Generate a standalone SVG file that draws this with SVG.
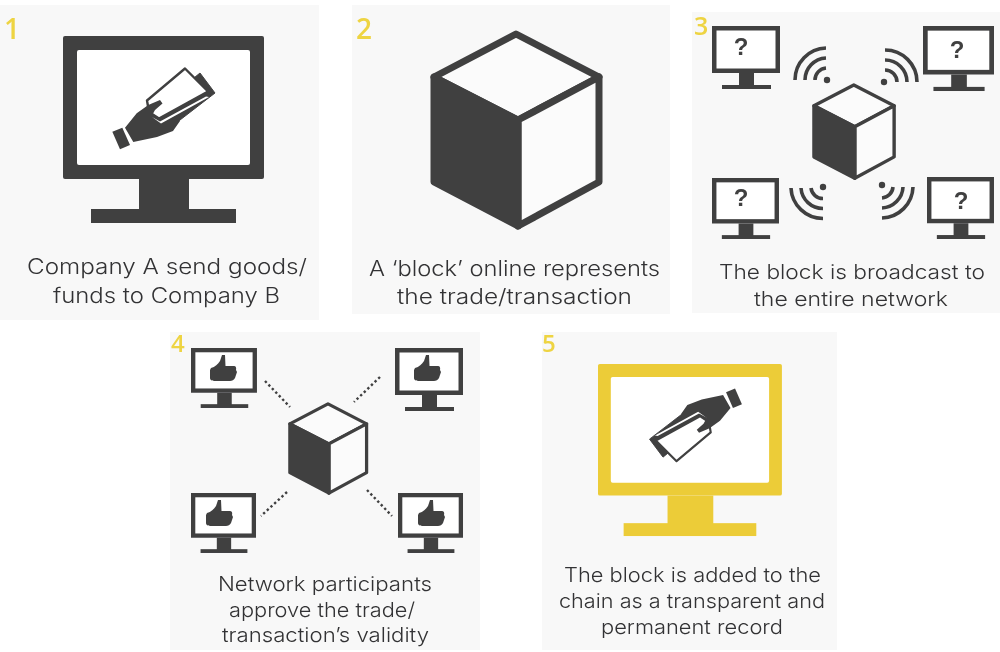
<svg xmlns="http://www.w3.org/2000/svg" width="1000" height="652" viewBox="0 0 1000 652">
<style>
.panel{fill:#f8f8f8}
.num{font-family:"Open Sans","Liberation Sans",sans-serif;font-weight:600;fill:#eed443}
.cap{font-family:Inter,"Liberation Sans",sans-serif;font-weight:300;fill:#333334;font-size:21px}
.cap3{font-size:20px}
.q{font-family:"Liberation Sans",sans-serif;font-weight:700;font-size:24px;fill:#404041;text-anchor:middle}
.wifi{fill:none;stroke:#404041;stroke-width:3.6}
.dot{fill:#404041}
.dots{fill:none;stroke:#404041;stroke-width:2.4;stroke-dasharray:2.4 2.6}
.dark{fill:#404041}
.yellow{fill:#eccc38}
.scr{fill:#fff}
</style>
<defs>
<filter id="soft" x="0" y="0" width="100%" height="100%"><feGaussianBlur stdDeviation="0.45"/></filter>
<g id="monitor">
<rect width="68" height="47" fill="#404041"/>
<rect x="4.5" y="4.5" width="59" height="38" fill="#fff"/>
<rect x="27" y="47" width="15" height="13" fill="#404041"/>
<rect x="10" y="59" width="49" height="4" fill="#404041"/>
</g>
<g id="bigmonitor">
<rect width="201" height="143" rx="2"/>
<rect x="14" y="14" width="173" height="115" rx="2" class="scr"/>
<rect x="76" y="143" width="50" height="31"/>
<rect x="28" y="173" width="145" height="14"/>
</g>
<g id="cube" stroke="#404041" stroke-width="7" stroke-linejoin="round">
<path d="M86 4L169 47L88 90L4 47Z" fill="#fbfbfb"/>
<path d="M88 90L169 47V152L88 196Z" fill="#fbfbfb"/>
<path d="M4 47L88 90V196L4 152Z" fill="#404041"/>
</g>
<g id="hand">
<path d="M200 73L215 93L180 120L160 130L150 114Z" fill="#404041" stroke="#404041" stroke-width="1" stroke-linejoin="round"/>
<path d="M147 100.500L185 68.500L208 91.500L159 118.500L149 112Z" fill="#fff" stroke="#404041" stroke-width="2.400" stroke-linejoin="round"/>
<path d="M152 117L160 121.500L206 96.500L209 97L161 123.500Z" fill="#fff"/>
<path d="M125 127.700L136.700 113.300L148.300 105L160 100L162.500 103.500L155 110L151.500 116.500L160 126L177 116L180 121L173 131L157 137L133.300 142Z" fill="#404041"/>
<path d="M112.300 131.700L122.300 127.700L130 145L120 149.300Z" fill="#404041"/>
</g>
<path id="thumb" d="M-12 -3C-8 -4 -5 -7 -3 -10L-1 -16H2L2.500 -5H11C13 -5 13.500 -3 13 -1L14 1L13 4L12 7C11 9 9 10 7 10H-7C-9 10 -13 10 -13 7V-1Z" fill="#404041"/>
</defs>
<g filter="url(#soft)">
<g id="step-1">
<rect class="panel" x="0" y="5" width="319" height="315"/>
<text class="num" x="4" y="39" font-size="28">1</text>
<use href="#bigmonitor" class="dark" transform="translate(63 36)"/>
<use href="#hand"/>
<text class="cap" x="27" y="274" textLength="280" lengthAdjust="spacingAndGlyphs">Company A send goods/</text>
<text class="cap" x="53" y="303" textLength="227" lengthAdjust="spacingAndGlyphs">funds to Company B</text>
</g>
<g id="step-2">
<rect class="panel" x="352" y="5" width="318" height="309"/>
<text class="num" x="356" y="39" font-size="28">2</text>
<use href="#cube" transform="translate(430 30)"/>
<text class="cap" x="369" y="276" textLength="291" lengthAdjust="spacingAndGlyphs">A ‘block’ online represents</text>
<text class="cap" x="397" y="304" textLength="235" lengthAdjust="spacingAndGlyphs">the trade/transaction</text>
</g>
<g id="step-3">
<rect class="panel" x="692" y="12" width="308" height="301"/>
<use href="#monitor" transform="translate(712 26)"/>
<use href="#monitor" transform="translate(923 26) scale(1.044 1.032)"/>
<use href="#monitor" transform="translate(712 178) scale(.985 .968)"/>
<use href="#monitor" transform="translate(927 177) scale(.985 .984)"/>
<text class="q" x="741" y="55">?</text>
<text class="q" x="957" y="58">?</text>
<text class="q" x="741" y="206">?</text>
<text class="q" x="961" y="209">?</text>
<use href="#cube" transform="translate(812 83) scale(.486)"/>
<g id="signal-tl">
<circle class="dot" cx="827" cy="80" r="3.200"/>
<path class="wifi" d="M826 48A32 32 0 0 0 795 80M826 58A22 22 0 0 0 805 80M826 68A12 12 0 0 0 815 80"/>
</g>
<g id="signal-tr">
<circle class="dot" cx="884" cy="82" r="3.200"/>
<path class="wifi" d="M885 50A32 32 0 0 1 917 82M885 60A22 22 0 0 1 907 82M885 70A12 12 0 0 1 897 82"/>
</g>
<g id="signal-bl">
<circle class="dot" cx="823" cy="187" r="3.200"/>
<path class="wifi" d="M791 188A32 32 0 0 0 823 218.500M801 188A22 22 0 0 0 823 208.500M811 188A12 12 0 0 0 823 198.500"/>
</g>
<g id="signal-br">
<circle class="dot" cx="882" cy="185" r="3.200"/>
<path class="wifi" d="M913 187A32 32 0 0 1 882 218M903 187A22 22 0 0 1 882 208M893 187A12 12 0 0 1 882 198"/>
</g>
<text class="num" x="694" y="35" font-size="25">3</text>
<text class="cap cap3" x="719" y="279" textLength="266" lengthAdjust="spacingAndGlyphs">The block is broadcast to</text>
<text class="cap cap3" x="754" y="306" textLength="194" lengthAdjust="spacingAndGlyphs">the entire network</text>
</g>
<g id="step-4">
<rect class="panel" x="170" y="332" width="310" height="318"/>
<use href="#monitor" transform="translate(191 348) scale(.97 .952)"/>
<use href="#monitor" transform="translate(395 348)"/>
<use href="#monitor" transform="translate(191 493) scale(.956 .952)"/>
<use href="#monitor" transform="translate(398 493) scale(.956 .952)"/>
<use href="#thumb" transform="translate(223 371)"/>
<use href="#thumb" transform="translate(427 371)"/>
<use href="#thumb" transform="translate(219 516)"/>
<use href="#thumb" transform="translate(431 516)"/>
<use href="#cube" transform="translate(288 402) scale(.465)"/>
<text class="num" x="171" y="352" font-size="24">4</text>
<text class="cap cap3" x="218" y="591" textLength="214" lengthAdjust="spacingAndGlyphs">Network participants</text>
<text class="cap cap3" x="229" y="617" textLength="186" lengthAdjust="spacingAndGlyphs">approve the trade/</text>
<text class="cap cap3" x="222" y="642" textLength="207" lengthAdjust="spacingAndGlyphs">transaction’s validity</text>
</g>
<g id="connectors">
<path class="dots" d="M265 381L290 407"/>
<path class="dots" d="M380 377L354 402"/>
<path class="dots" d="M287 492L261 516"/>
<path class="dots" d="M367 490L392 516"/>
</g>
<g id="step-5">
<rect class="panel" x="542" y="332" width="295" height="318"/>
<text class="num" x="542" y="352" font-size="24">5</text>
<use href="#bigmonitor" class="yellow" transform="translate(598 364) scale(.915 .92)"/>
<use href="#hand" transform="translate(695.700 425) rotate(180) scale(.9) translate(-163.700 -108.700)"/>
<text class="cap cap3" x="564" y="582" textLength="257" lengthAdjust="spacingAndGlyphs">The block is added to the</text>
<text class="cap cap3" x="559" y="608" textLength="266" lengthAdjust="spacingAndGlyphs">chain as a transparent and</text>
<text class="cap cap3" x="601" y="634" textLength="182" lengthAdjust="spacingAndGlyphs">permanent record</text>
</g>
</g>
</svg>
